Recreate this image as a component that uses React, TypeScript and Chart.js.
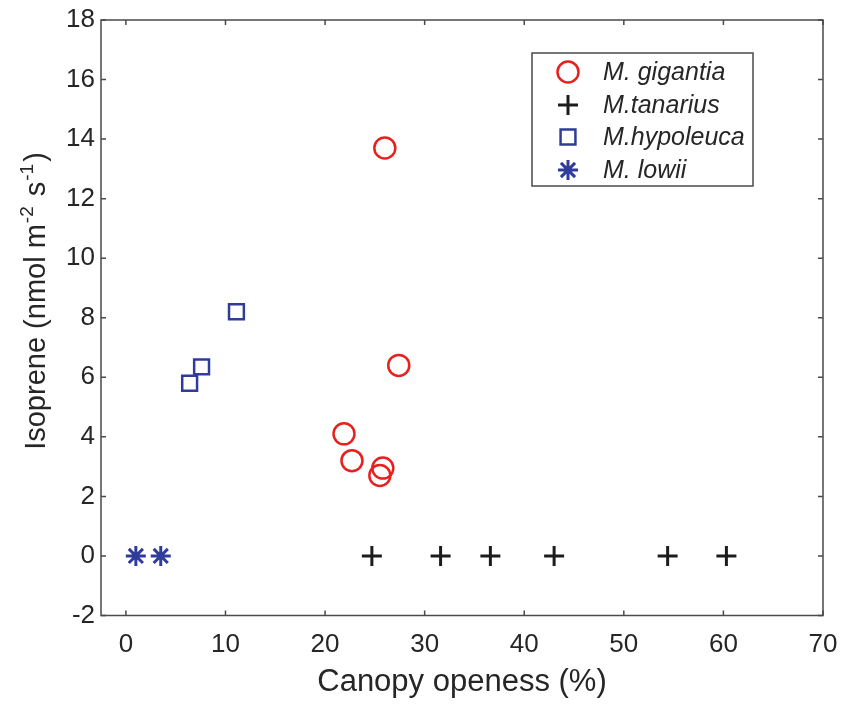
import React, { useEffect, useRef } from "react";
import { Chart, registerables } from "chart.js";
import { drawPoint } from "chart.js/helpers";

Chart.register(...registerables);

const seriesNames = ["M. gigantia", "M.tanarius", "M.hypoleuca", "M. lowii"];
const gigantiaX = [26.0, 27.4, 21.9, 22.7, 25.8, 25.5];
const gigantiaY = [13.7, 6.4, 4.1, 3.2, 2.95, 2.7];
const tanariusX = [24.7, 31.6, 36.6, 43.0, 54.4, 60.3];
const tanariusY = [0, 0, 0, 0, 0, 0];
const hypoleucaX = [6.4, 7.6, 11.1];
const hypoleucaY = [5.8, 6.35, 8.2];
const lowiiX = [1.0, 3.5];
const lowiiY = [0, 0];

const xTicks = [0, 10, 20, 30, 40, 50, 60, 70];
const yTicks = [-2, 0, 2, 4, 6, 8, 10, 12, 14, 16, 18];
const xTitle = "Canopy openess (%)";

const FONT = "'Liberation Sans', Arial, Helvetica, sans-serif";
const TEXT = "#262626";
const AXIS = "#4a4a4a";
const RED = "#e8211f";
const BLACK = "#1c1c1c";
const BLUE = "#2f3c9c";

const toPts = (xs: number[], ys: number[]) => xs.map((x, i) => ({ x, y: ys[i] }));

const framePlugin = {
  id: "frame",
  afterDraw(chart: any) {
    const { ctx, chartArea: ca, scales } = chart;
    const xs = scales.x;
    const ys = scales.y;
    ctx.save();
    ctx.strokeStyle = AXIS;
    ctx.lineWidth = 1.5;
    ctx.strokeRect(ca.left, ca.top, ca.right - ca.left, ca.bottom - ca.top);
    const tl = 5;
    ctx.beginPath();
    xTicks.forEach((v) => {
      const px = xs.getPixelForValue(v);
      ctx.moveTo(px, ca.bottom);
      ctx.lineTo(px, ca.bottom - tl);
      ctx.moveTo(px, ca.top);
      ctx.lineTo(px, ca.top + tl);
    });
    yTicks.forEach((v) => {
      const py = ys.getPixelForValue(v);
      ctx.moveTo(ca.left, py);
      ctx.lineTo(ca.left + tl, py);
      ctx.moveTo(ca.right, py);
      ctx.lineTo(ca.right - tl, py);
    });
    ctx.stroke();

    // x title
    ctx.fillStyle = TEXT;
    ctx.font = `31px ${FONT}`;
    ctx.textAlign = "center";
    ctx.textBaseline = "alphabetic";
    ctx.fillText(xTitle, (ca.left + ca.right) / 2, 691);

    // y title with superscripts
    const parts: [string, boolean][] = [
      ["Isoprene (nmol m", false],
      ["-2", true],
      [" s", false],
      ["-1", true],
      [")", false],
    ];
    const mainF = `29px ${FONT}`;
    const supF = `19px ${FONT}`;
    let total = 0;
    const widths = parts.map(([t, s]) => {
      ctx.font = s ? supF : mainF;
      const w = ctx.measureText(t).width + (s ? 3 : 0);
      total += w;
      return w;
    });
    ctx.translate(45, 301);
    ctx.rotate(-Math.PI / 2);
    ctx.textAlign = "left";
    let cx = -total / 2;
    parts.forEach(([t, s], i) => {
      ctx.font = s ? supF : mainF;
      ctx.fillText(t, cx + (s ? 1 : 0), s ? -12 : 0);
      cx += widths[i];
    });
    ctx.setTransform(1, 0, 0, 1, 0, 0);

    // legend
    const lx = 532, ly = 53, lw = 221, lh = 133;
    ctx.fillStyle = "#ffffff";
    ctx.fillRect(lx, ly, lw, lh);
    ctx.strokeStyle = AXIS;
    ctx.lineWidth = 1.5;
    ctx.strokeRect(lx, ly, lw, lh);
    const rowY = [72, 105, 137, 170];
    chart.data.datasets.forEach((ds: any, i: number) => {
      const y = rowY[i];
      ctx.save();
      ctx.strokeStyle = ds.borderColor;
      ctx.fillStyle = "rgba(0,0,0,0)";
      ctx.lineWidth = ds.borderWidth;
      drawPoint(ctx, { pointStyle: ds.pointStyle, radius: ds.pointRadius, borderWidth: ds.borderWidth, rotation: 0 }, 568, y);
      ctx.restore();
      ctx.fillStyle = TEXT;
      ctx.font = `italic 25px ${FONT}`;
      ctx.textAlign = "left";
      ctx.textBaseline = "middle";
      ctx.fillText(ds.label, 603, y + 1);
    });
    ctx.restore();
  },
};

export default function App() {
  const ref = useRef<HTMLCanvasElement | null>(null);
  useEffect(() => {
    if (!ref.current) return;
    const mk = (label: string, data: any, style: string, color: string, r: number, bw: number) => ({
      label,
      data,
      pointStyle: style,
      pointRadius: r,
      pointHoverRadius: r,
      borderColor: color,
      backgroundColor: "rgba(0,0,0,0)",
      borderWidth: bw,
      pointBorderWidth: bw,
      showLine: false,
    });
    const chart = new Chart(ref.current, {
      type: "scatter",
      data: {
        datasets: [
          mk(seriesNames[0], toPts(gigantiaX, gigantiaY), "circle", RED, 10.5, 2.5),
          mk(seriesNames[1], toPts(tanariusX, tanariusY), "cross", BLACK, 10, 3),
          mk(seriesNames[2], toPts(hypoleucaX, hypoleucaY), "rect", BLUE, 10.5, 2.5),
          mk(seriesNames[3], toPts(lowiiX, lowiiY), "star", BLUE, 10, 3),
        ],
      },
      options: {
        animation: false,
        responsive: false,
        devicePixelRatio: 1,
        layout: { padding: { left: 0, right: 19, top: 20, bottom: 0 } },
        plugins: { legend: { display: false }, tooltip: { enabled: false } },
        scales: {
          x: {
            type: "linear",
            min: -2.5,
            max: 70,
            grid: { display: false, drawTicks: false },
            border: { display: false },
            afterBuildTicks: (s: any) => {
              s.ticks = xTicks.map((v) => ({ value: v }));
            },
            afterFit: (s: any) => {
              s.height = 88.5;
              s.paddingLeft = 0;
              s.paddingRight = 0;
            },
            ticks: { color: TEXT, font: { family: FONT, size: 26 }, padding: 14, maxRotation: 0, autoSkip: false },
          },
          y: {
            type: "linear",
            min: -2,
            max: 18,
            grid: { display: false, drawTicks: false },
            border: { display: false },
            afterBuildTicks: (s: any) => {
              s.ticks = yTicks.map((v) => ({ value: v }));
            },
            afterFit: (s: any) => {
              s.width = 101;
              s.paddingTop = 0;
              s.paddingBottom = 0;
            },
            ticks: { color: TEXT, font: { family: FONT, size: 26 }, padding: 6, autoSkip: false },
          },
        },
      } as any,
      plugins: [framePlugin],
    });
    return () => chart.destroy();
  }, []);
  return (
    <div style={{ position: "fixed", left: 0, top: 0, width: 842, height: 704, background: "#fff" }}>
      <canvas ref={ref} width={842} height={704} style={{ width: 842, height: 704, display: "block" }} />
    </div>
  );
}
